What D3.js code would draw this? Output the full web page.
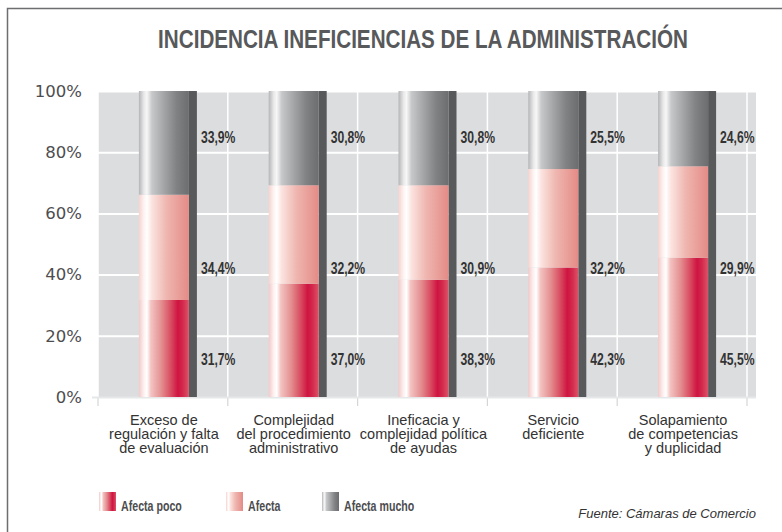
<!DOCTYPE html>
<html>
<head>
<meta charset="utf-8">
<script src="https://cdn.jsdelivr.net/npm/d3@7"></script>
<style>
    body { margin: 0; background: #fff; }
    svg { display: block; }
</style>
</head>
<body>
<div id="chart"></div>
<script>
// data
const categories = [
    ['Exceso de', 'regulación y falta', 'de evaluación'],
    ['Complejidad', 'del procedimiento', 'administrativo'],
    ['Ineficacia y', 'complejidad política', 'de ayudas'],
    ['Servicio', 'deficiente'],
    ['Solapamiento', 'de competencias', 'y duplicidad']
];
const afectaPoco = [31.7, 37.0, 38.3, 42.3, 45.5];
const afecta = [34.4, 32.2, 30.9, 32.2, 29.9];
const afectaMucho = [33.9, 30.8, 30.8, 25.5, 24.6];
const seriesNames = ['Afecta poco', 'Afecta', 'Afecta mucho'];
const yTicks = [0, 20, 40, 60, 80, 100];
// labels sit on fixed rows, not in the middle of the segments
const labelRows = [12.5, 42, 85];

const width = 782, height = 532;
const margin = { top: 91, left: 98, bottom: 397, right: 747 };
const plotRight = 756;

const svg = d3.select('#chart').append('svg')
    .attr('width', width)
    .attr('height', height);

const defs = svg.append('defs');

const gradients = {
    'Afecta poco': [[0, '#f3c9c9'], [0.1, '#fdf1f0'], [0.16, '#ffffff'], [0.24, '#f3c4c2'], [0.45, '#e48e90'], [0.65, '#d8485e'], [0.78, '#cf1442'], [0.88, '#d32a4c'], [1, '#dc5468']],
    'Afecta': [[0, '#f6d3cf'], [0.1, '#fdf3f1'], [0.16, '#ffffff'], [0.26, '#fbe3df'], [0.55, '#efb6b0'], [1, '#e48b86']],
    'Afecta mucho': [[0, '#b4b5b7'], [0.1, '#e8e8e9'], [0.16, '#f7f7f7'], [0.26, '#c7c8ca'], [0.5, '#a4a5a7'], [0.75, '#818284'], [1, '#6c6d6f']]
};

seriesNames.forEach((name, i) => {
    let g = defs.append('linearGradient')
        .attr('id', 'grad' + i)
        .attr('x1', '0%').attr('x2', '100%')
        .attr('y1', '0%').attr('y2', '0%');
    g.selectAll('stop')
        .data(gradients[name]).enter()
        .append('stop')
        .attr('offset', d => d[0])
        .attr('stop-color', d => d[1]);
});

// squeeze a text horizontally (no condensed font installed)
let narrow = (sel, factor) => {
    sel.each(function() {
        let t = d3.select(this);
        let tx = +t.attr('x') || 0, ty = +t.attr('y') || 0;
        t.attr('x', 0).attr('y', 0)
            .attr('transform', `translate(${tx}, ${ty}) scale(${factor}, 1)`);
    });
};

const condensedFont = '"Liberation Sans", Arial, sans-serif';

// frame
svg.append('path')
    .attr('d', 'M7.5,' + height + ' L7.5,8.5 L' + width + ',8.5')
    .attr('fill', 'none')
    .attr('stroke', '#6d6e70')
    .attr('stroke-width', 1.5);

const title = svg.append('text')
    .attr('x', 423)
    .attr('y', 48)
    .attr('text-anchor', 'middle')
    .style('font-family', condensedFont)
    .style('font-weight', 'bold')
    .style('font-size', '26px')
    .style('fill', '#58595b')
    .text('INCIDENCIA INEFICIENCIAS DE LA ADMINISTRACIÓN');
narrow(title, 530 / title.node().getComputedTextLength());

const x = d3.scaleBand()
    .domain(d3.range(categories.length))
    .range([margin.left, margin.right])
    .paddingInner(0)
    .paddingOuter(0);

const y = d3.scaleLinear()
    .domain([0, 100])
    .range([margin.bottom, margin.top]);

// plot background
svg.append('rect')
    .attr('x', margin.left)
    .attr('y', margin.top)
    .attr('width', plotRight - margin.left)
    .attr('height', margin.bottom - margin.top)
    .attr('fill', '#dcdddf');

// vertical grid at band edges
let bandEdges = categories.map((c, i) => x(i)).concat([margin.right]);
svg.append('g')
    .selectAll('line')
    .data(bandEdges).enter()
    .append('line')
    .attr('x1', d => d).attr('x2', d => d)
    .attr('y1', margin.top).attr('y2', margin.bottom)
    .attr('stroke', '#ffffff')
    .attr('stroke-width', 1.5);

svg.append('g')
    .selectAll('line')
    .data(bandEdges).enter()
    .append('line')
    .attr('x1', d => d).attr('x2', d => d)
    .attr('y1', margin.bottom).attr('y2', margin.bottom + 9)
    .attr('stroke', '#d4d5d7')
    .attr('stroke-width', 1.2);

// y axis with grid lines
const yAxis = d3.axisLeft(y)
    .tickValues(yTicks)
    .tickFormat(d => d + '%')
    .tickSize(-(plotRight - margin.left) - 6)
    .tickPadding(10);

const yAxisG = svg.append('g')
    .attr('class', 'y axis')
    .attr('transform', `translate(${margin.left - 6}, 0)`)
    .call(yAxis);

yAxisG.select('.domain').remove();
yAxisG.selectAll('.tick line')
    .attr('stroke', '#ffffff')
    .attr('stroke-width', 2);
yAxisG.selectAll('.tick').filter(d => d === 0).select('line')
    .attr('stroke', '#e6e7e8');
yAxisG.selectAll('.tick text')
    .style('font-family', '"DejaVu Sans", sans-serif')
    .style('font-size', '16.5px')
    .style('fill', '#4d4d4f')
    .attr('dy', '0.32em');

// stacked bars
const stack = d3.stack().keys([0, 1, 2]);
const rows = afectaPoco.map((v, i) => ({ 0: v, 1: afecta[i], 2: afectaMucho[i] }));
const layers = stack(rows);

const barWidth = 50, shadowWidth = 8;
const barX = i => x(i) + x.bandwidth() / 2 - barWidth / 2 + 1;

svg.append('g')
    .selectAll('rect')
    .data(d3.range(categories.length)).enter()
    .append('rect')
    .attr('x', i => barX(i) + barWidth)
    .attr('y', y(100))
    .attr('width', shadowWidth)
    .attr('height', y(0) - y(100))
    .attr('fill', '#58595b');

layers.forEach((layer, k) => {
    svg.append('g')
        .attr('class', 'serie-' + k)
        .selectAll('rect')
        .data(layer).enter()
        .append('rect')
        .attr('x', (d, i) => barX(i))
        .attr('y', d => y(d[1]))
        .attr('width', barWidth)
        .attr('height', d => y(d[0]) - y(d[1]))
        .attr('fill', 'url(#grad' + k + ')');
});

// value labels
const fmt = v => v.toFixed(1).replace('.', ',') + '%';
[afectaPoco, afecta, afectaMucho].forEach((serie, k) => {
    let labels = svg.append('g')
        .selectAll('text')
        .data(serie).enter()
        .append('text')
        .attr('x', (d, i) => barX(i) + barWidth + shadowWidth + 4)
        .attr('y', y(labelRows[k]) + 6)
        .style('font-family', condensedFont)
        .style('font-weight', 'bold')
        .style('font-size', '16px')
        .style('fill', '#333333')
        .text(d => fmt(d));
    narrow(labels, 0.76);
});

// category labels
const catG = svg.append('g')
    .selectAll('text')
    .data(categories).enter()
    .append('text')
    .attr('x', (d, i) => x(i) + x.bandwidth() / 2 + 1)
    .attr('y', 425)
    .attr('text-anchor', 'middle')
    .style('font-family', '"Liberation Sans", Arial, sans-serif')
    .style('font-size', '14.5px')
    .style('fill', '#333333');

catG.selectAll('tspan')
    .data(d => d).enter()
    .append('tspan')
    .attr('x', function() { return d3.select(this.parentNode).attr('x'); })
    .attr('dy', (d, i) => i === 0 ? 0 : 14)
    .text(d => d);

// legend
const legendX = [99, 226, 322];
const legend = svg.append('g')
    .selectAll('g')
    .data(seriesNames).enter()
    .append('g')
    .attr('transform', (d, i) => `translate(${legendX[i]}, 492)`);

legend.append('rect')
    .attr('width', 17)
    .attr('height', 19)
    .attr('fill', (d, i) => 'url(#grad' + i + ')');

let legendText = legend.append('text')
    .attr('x', 22)
    .attr('y', 19)
    .style('font-family', condensedFont)
    .style('font-weight', 'bold')
    .style('font-size', '14px')
    .style('fill', '#4d4d4f')
    .text(d => d);
narrow(legendText, 0.76);

svg.append('text')
    .attr('x', 756)
    .attr('y', 518)
    .attr('text-anchor', 'end')
    .style('font-family', '"Liberation Sans", Arial, sans-serif')
    .style('font-style', 'italic')
    .style('font-size', '13px')
    .style('fill', '#333333')
    .text('Fuente: Cámaras de Comercio');
</script>
</body>
</html>
